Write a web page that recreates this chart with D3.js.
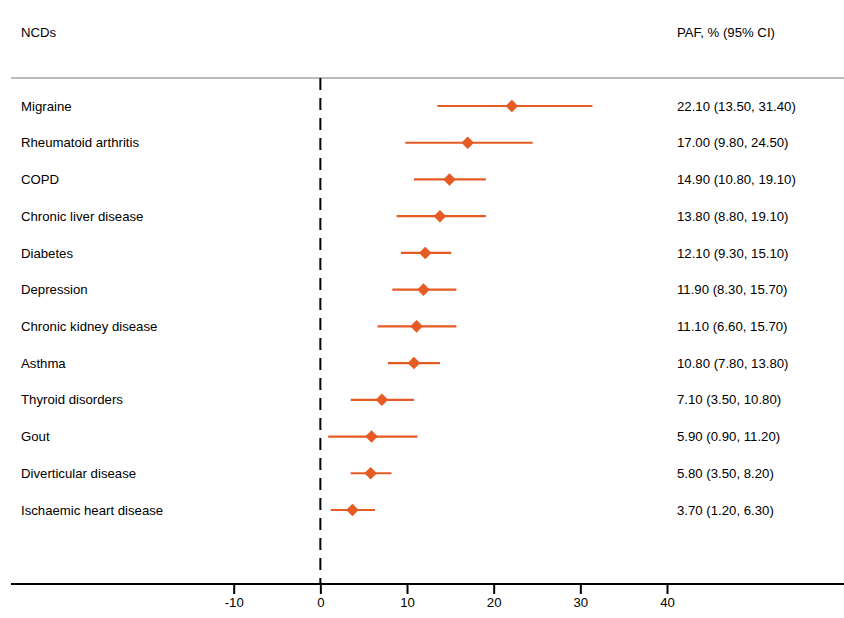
<!DOCTYPE html>
<html>
<head>
<meta charset="utf-8">
<script src="https://cdn.jsdelivr.net/npm/d3@7"></script>
<style>
  body { margin: 0; background: #fff; }
  text { font-family: "Liberation Sans", Arial, sans-serif; font-size: 13.2px; fill: #000; }
</style>
</head>
<body>
<div id="forest"></div>
<script>
var diseases = ["Migraine", "Rheumatoid arthritis", "COPD", "Chronic liver disease",
                "Diabetes", "Depression", "Chronic kidney disease", "Asthma",
                "Thyroid disorders", "Gout", "Diverticular disease", "Ischaemic heart disease"],
    paf = [22.1, 17.0, 14.9, 13.8, 12.1, 11.9, 11.1, 10.8, 7.1, 5.9, 5.8, 3.7],
    ci_lo = [13.5, 9.8, 10.8, 8.8, 9.3, 8.3, 6.6, 7.8, 3.5, 0.9, 3.5, 1.2],
    ci_hi = [31.4, 24.5, 19.1, 19.1, 15.1, 15.7, 15.7, 13.8, 10.8, 11.2, 8.2, 6.3],
    x_ticks = [-10, 0, 10, 20, 30, 40];

var W = 844,
H = 618,
LEFT = 11,
HEAD_Y = 78,
AXIS_Y = 584,
ORANGE = "#e65a24",
svg = d3.select("#forest").append("svg")
  .attr("width", W)
  .attr("height", H);

var x = d3.scaleLinear().domain([-10, 40]).range([233.7, 667]);
var y = d3.scalePoint().domain(diseases).range([106, 510]);

// header
svg.append("text").attr("x", 21).attr("y", 37).text("NCDs");
svg.append("text").attr("x", 677).attr("y", 37).text("PAF, % (95% CI)");

svg.append("line")
  .attr("x1", LEFT).attr("x2", W)
  .attr("y1", HEAD_Y).attr("y2", HEAD_Y)
  .style("stroke", "#bbb")
  .style("stroke-width", 2);

// reference line at zero
svg.append("line")
  .attr("x1", x(0)).attr("x2", x(0))
  .attr("y1", HEAD_Y).attr("y2", AXIS_Y)
  .style("stroke", "#000")
  .style("stroke-width", 2)
  .style("stroke-dasharray", "12,8");

var rows = svg.selectAll("g.row")
  .data(diseases)
  .enter().append("g")
  .attr("class", "row")
  .attr("transform", function(d) { return "translate(0," + y(d) + ")"; });

rows.append("text")
  .attr("x", 21)
  .attr("dy", "0.35em")
  .text(function(d) { return d; });

rows.append("line")
  .attr("x1", function(d, i) { return x(ci_lo[i]); })
  .attr("x2", function(d, i) { return x(ci_hi[i]); })
  .style("stroke", ORANGE)
  .style("stroke-width", 2.2);

rows.append("path")
  .attr("d", d3.symbol().type(d3.symbolDiamond2).size(100))
  .attr("transform", function(d, i) { return "translate(" + x(paf[i]) + ",0)"; })
  .style("fill", ORANGE);

rows.append("text")
  .attr("x", 677)
  .attr("dy", "0.35em")
  .text(function(d, i) {
    return paf[i].toFixed(2) + " (" + ci_lo[i].toFixed(2) + ", " + ci_hi[i].toFixed(2) + ")";
  });

// x axis
var axis = svg.append("g")
  .attr("transform", "translate(0," + AXIS_Y + ")")
  .call(d3.axisBottom(x).tickValues(x_ticks).tickSize(10).tickSizeOuter(0)
    .tickFormat(function(d) { return String(d); }));
axis.select(".domain").remove();
axis.selectAll(".tick line").style("stroke", "#000").style("stroke-width", 2);
axis.selectAll(".tick text")
  .attr("y", 14)
  .style("font-size", "13.2px")
  .style("font-family", "Liberation Sans, Arial, sans-serif");

svg.append("line")
  .attr("x1", LEFT).attr("x2", W)
  .attr("y1", AXIS_Y).attr("y2", AXIS_Y)
  .style("stroke", "#000")
  .style("stroke-width", 2);
</script>
</body>
</html>
